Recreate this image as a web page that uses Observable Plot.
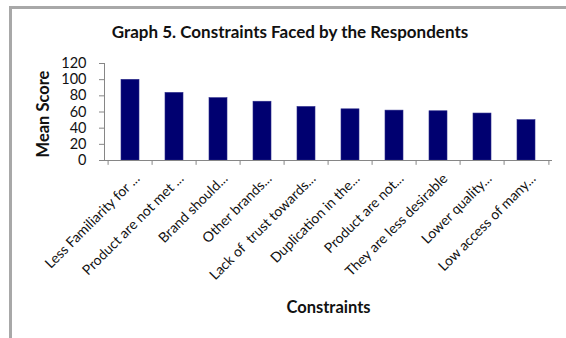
<!DOCTYPE html>
<html>
<head>
<meta charset="utf-8">
<script src="https://cdn.jsdelivr.net/npm/d3@7"></script>
<script src="https://cdn.jsdelivr.net/npm/@observablehq/plot@0.6"></script>
<style>
  html, body { margin: 0; padding: 0; background: #fff; }
  #wrap { position: relative; width: 566px; height: 338px; overflow: hidden; font-family: Lato, "Open Sans", sans-serif; }
  #frame { position: absolute; left: 9px; top: 6px; width: 560px; height: 340px;
           border-top: 3px solid #a8a8a8; border-left: 3px solid #a8a8a8; box-sizing: border-box; }
  #title { position: absolute; left: 90px; width: 400px; top: 22px; text-align: center;
           font-family: Lato, sans-serif; font-weight: bold; font-size: 17px; line-height: 20px; color: #111; }
  #chart { position: absolute; left: 0; top: 0; }
</style>
</head>
<body>
<div id="wrap">
  <div id="frame"></div>
  <div id="chart"></div>
  <div id="title">Graph 5. Constraints Faced by the Respondents</div>
</div>
<script>
const categories = [
  "Less Familiarity for ...",
  "Product are not met ...",
  "Brand should...",
  "Other brands...",
  "Lack of  trust towards...",
  "Duplication in the...",
  "Product are not...",
  "They are less desirable",
  "Lower quality...",
  "Low access of many..."
];
const meanScores = [99.8, 83.6, 77.1, 72.7, 66.2, 63.3, 61.7, 60.9, 58.1, 49.9];
const yTicks = [0, 20, 40, 60, 80, 100, 120];
const xLabel = "Constraints";
const yLabel = "Mean Score";

const data = categories.map((c, i) => ({category: c, score: meanScores[i]}));

const W = 566, H = 338;
const mL = 104, mR = 14, mT = 63, mB = 178;
const step = (W - mL - mR) / categories.length;
const axisColor = "#868686";

const chart = Plot.plot({
  width: W,
  height: H,
  marginLeft: mL,
  marginRight: mR,
  marginTop: mT,
  marginBottom: mB,
  style: {fontFamily: "Lato, sans-serif", background: "transparent", color: "#111"},
  x: {domain: categories, paddingInner: 0.6, paddingOuter: 0.3},
  y: {domain: [0, 120]},
  marks: [
    Plot.barY(data, {x: "category", y: "score", fill: "#000070", stroke: "#2a2a8a", strokeWidth: 0.6}),
    Plot.ruleY([0], {stroke: axisColor}),
    Plot.frame({anchor: "left", stroke: axisColor}),
    Plot.ruleX(categories, {x: d => d, y1: 0, y2: -6, dx: -step / 2, stroke: axisColor}),
    Plot.ruleX(categories.slice(-1), {x: d => d, y1: 0, y2: -6, dx: step / 2, stroke: axisColor}),
    Plot.axisY({ticks: yTicks, tickSize: 5, tickPadding: 13, fontSize: 14.5, label: null, stroke: axisColor}),
    Plot.axisX({ticks: [], label: null}),
    Plot.text(categories, {x: d => d, y: 0, text: d => d, rotate: -45, textAnchor: "end", lineAnchor: "bottom",
      dx: 10, dy: 19, fontSize: 14, fill: "#111"}),
    Plot.text([xLabel], {frameAnchor: "bottom", textAnchor: "middle", dy: 152, text: d => d, fontSize: 16.5, fontWeight: "bold", fill: "#111"}),
    Plot.text([yLabel], {frameAnchor: "left", textAnchor: "middle", dx: -61, dy: 2, rotate: -90, text: d => d, fontSize: 16.5, fontWeight: "bold", fill: "#111"})
  ]
});
document.getElementById("chart").appendChild(chart);
</script>
</body>
</html>
